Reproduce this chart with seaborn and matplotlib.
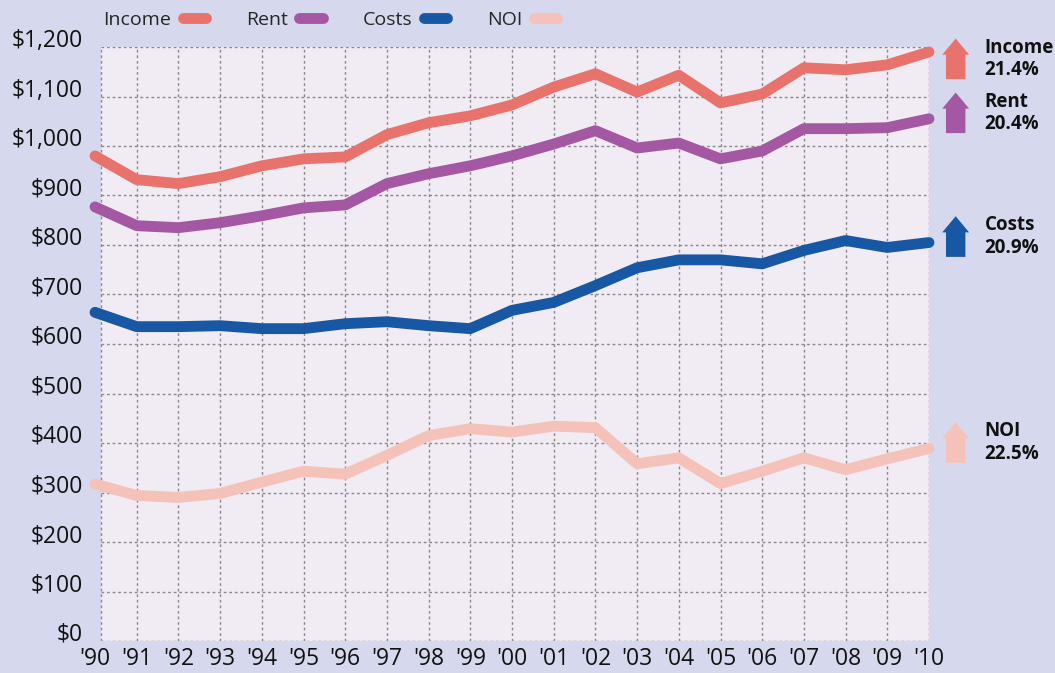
import numpy as np
import pandas as pd
import matplotlib
matplotlib.use("Agg")
import matplotlib.pyplot as plt
import seaborn as sns

# values
years = ["'90", "'91", "'92", "'93", "'94", "'95", "'96", "'97", "'98", "'99", "'00",
         "'01", "'02", "'03", "'04", "'05", "'06", "'07", "'08", "'09", "'10"]
income = [980, 932, 924, 938, 960, 974, 978, 1023, 1047, 1061, 1083,
          1119, 1146, 1109, 1143, 1087, 1105, 1158, 1154, 1164, 1190]
rent = [877, 839, 835, 845, 859, 875, 881, 924, 944, 960, 980,
        1004, 1031, 996, 1006, 974, 990, 1035, 1035, 1037, 1055]
costs = [664, 635, 635, 637, 631, 631, 641, 645, 637, 631, 668,
         684, 718, 754, 770, 770, 762, 789, 809, 795, 805]
noi = [317, 294, 290, 298, 321, 343, 337, 375, 415, 429, 422,
       434, 431, 358, 370, 318, 343, 370, 346, 368, 389]
series_names = ["Income", "Rent", "Costs", "NOI"]
changes = ["21.4%", "20.4%", "20.9%", "22.5%"]
colors = ["#E8736C", "#A457A2", "#1857A4", "#F4C2B8"]
y_ticks = list(range(0, 1201, 100))

fig_bg = "#D6D9EE"
plot_bg = "#F1EBF3"
grid_c = "#8a8a8a"

sns.set_style("white")
plt.rcParams['font.family'] = ['Open Sans', 'DejaVu Sans']

df = pd.DataFrame({
    "pos": list(range(len(years))) * 4,
    "value": income + rent + costs + noi,
    "series": sum([[n] * len(years) for n in series_names], []),
})

fig = plt.figure(figsize=(10.55, 6.73), dpi=100, facecolor=fig_bg)
ax = fig.add_axes([95 / 1055, 32 / 673, 834 / 1055, 594 / 673])
ax.set_facecolor("none")
for s in ax.spines.values():
    s.set_visible(False)

x0 = 0.144  # where the shaded frame starts
ax.add_patch(plt.Rectangle((x0, 0), 20 - x0, 1200, facecolor=plot_bg, edgecolor="none", zorder=0))
dash = (0, (2, 2))
ax.hlines(y_ticks, x0, 20, colors=grid_c, linestyles=dash, lw=1, zorder=1)
ax.vlines([x0] + list(range(1, 21)), 0, 1200, colors=grid_c, linestyles=dash, lw=1, zorder=1)

sns.lineplot(data=df, x="pos", y="value", hue="series", hue_order=series_names,
             palette=dict(zip(series_names, colors)), lw=7.8, legend=False, ax=ax,
             solid_capstyle="round", solid_joinstyle="round", clip_on=False, zorder=3)

ax.set_xlim(0, 20)
ax.set_ylim(0, 1200)
ax.set_xticks(range(len(years)))
ax.set_xticklabels(years)
ax.set_yticks(y_ticks)
ax.set_yticklabels(["${:,}".format(v) for v in y_ticks], va="baseline")
ax.tick_params(axis="both", length=0, labelsize=16.5, colors="#111111")
ax.tick_params(axis="y", pad=9)
ax.tick_params(axis="x", pad=4.5)
ax.set_xlabel("")
ax.set_ylabel("")

# legend on top
fig.legend(handles=ax.lines[:4], labels=series_names, ncol=4, markerfirst=False,
           frameon=False, loc="center left", bbox_to_anchor=(103 / 1055, 1 - 20 / 673),
           fontsize=14, handlelength=1.2, handletextpad=0.6, columnspacing=2.05,
           borderpad=0, borderaxespad=0)

# arrows + percentage changes on the right
for name, vals, pct, c in zip(series_names, [income, rent, costs, noi], changes, colors):
    yc = min(vals[-1] + 12, 1176)
    ax.annotate("", xy=(20.64, yc + 41), xytext=(20.64, yc - 41),
                arrowprops=dict(arrowstyle="simple,head_length=0.58,head_width=0.97,tail_width=0.7",
                                mutation_scale=20, color=c, shrinkA=0, shrinkB=0, lw=0),
                annotation_clip=False)
    ax.text(21.33, yc, name + "\n" + pct, ha="left", va="center", fontsize=13.5,
            fontweight="bold", linespacing=1.15, color="#111111", clip_on=False)

fig.savefig("out.png", dpi=100, facecolor=fig_bg)
